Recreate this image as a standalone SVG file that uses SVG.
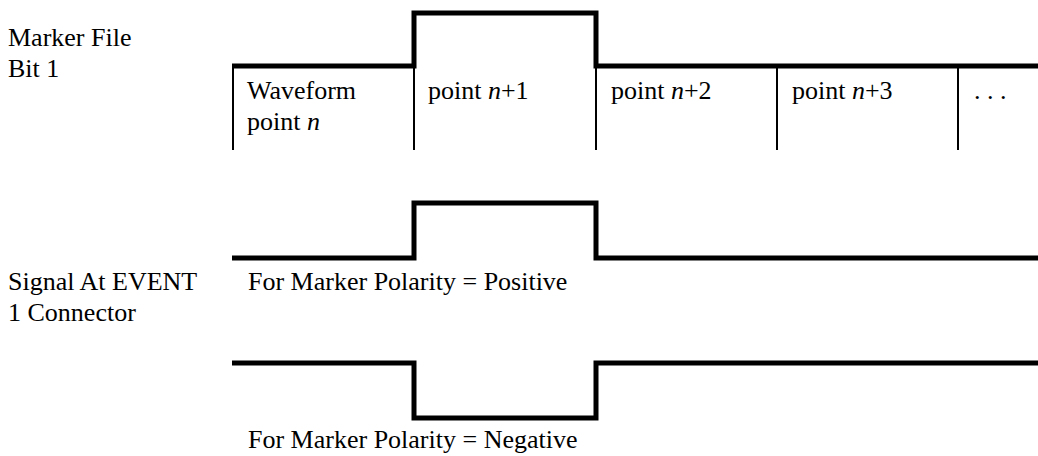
<svg xmlns="http://www.w3.org/2000/svg" width="1038" height="456" viewBox="0 0 1038 456">
<style>
.t{font-family:'Liberation Serif','Times New Roman',Times,serif;font-size:26px;fill:#000}
.it{font-style:italic}
.thick{fill:none;stroke:#000;stroke-width:5;stroke-linejoin:miter;stroke-linecap:butt}
.thin{fill:none;stroke:#000;stroke-width:2}
</style>
<rect width="1038" height="456" fill="#fff"/>
<g id="labels" class="t">
<text x="8" y="46">Marker File</text>
<text x="8" y="77">Bit 1</text>
<text x="8" y="290">Signal At EVENT</text>
<text x="8" y="321">1 Connector</text>
</g>
<g id="cells" class="t">
<line class="thin" x1="233" y1="66" x2="233" y2="150"/>
<line class="thin" x1="414" y1="66" x2="414" y2="150"/>
<line class="thin" x1="596" y1="66" x2="596" y2="150"/>
<line class="thin" x1="777" y1="66" x2="777" y2="150"/>
<line class="thin" x1="958" y1="66" x2="958" y2="150"/>
<text x="247" y="99">Waveform</text>
<text x="247" y="130">point <tspan class="it">n</tspan></text>
<text x="428" y="99">point <tspan class="it">n</tspan>+1</text>
<text x="611" y="99">point <tspan class="it">n</tspan>+2</text>
<text x="792" y="99">point <tspan class="it">n</tspan>+3</text>
<text x="974" y="99">. . .</text>
</g>
<g id="waveforms">
<path class="thick" d="M232 66 H414 V13 H596 V66 H1038"/>
<path class="thick" d="M232 258 H414 V203 H596 V258 H1038"/>
<path class="thick" d="M232 363 H414 V418 H596 V363 H1038"/>
</g>
<g id="captions" class="t">
<text x="248" y="290">For Marker Polarity = Positive</text>
<text x="248" y="448">For Marker Polarity = Negative</text>
</g>
</svg>
